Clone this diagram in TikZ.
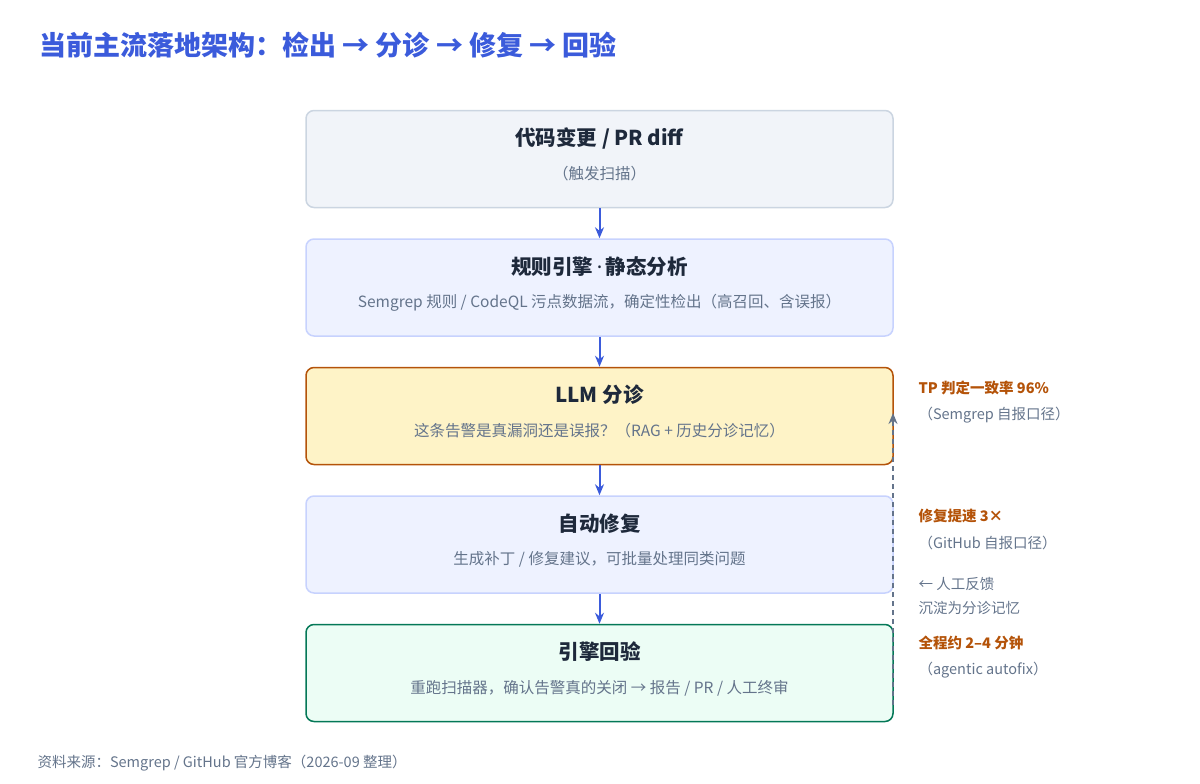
\documentclass[tikz,border=0pt]{standalone}
\usepackage{fontspec}
\setmainfont{Noto Sans CJK SC}
\newfontfamily\latinfont{Noto Sans}
\usetikzlibrary{arrows.meta,positioning}
\definecolor{titleblue}{HTML}{3B5BDB}
\definecolor{darktext}{HTML}{1E293B}
\definecolor{greytext}{HTML}{64748B}
\definecolor{orangetext}{HTML}{B45309}
\begin{document}
\begin{tikzpicture}[x=1pt,y=-1pt,>={Stealth[length=11pt,width=9pt]},
        node distance=30pt,
        box/.style={rectangle,rounded corners=8pt,line width=1.5pt,minimum width=587pt,minimum height=97pt},
        box grey/.style={box,draw={rgb,255:red,203;green,213;blue,225},fill={rgb,255:red,241;green,244;blue,249}},
        box blue/.style={box,draw={rgb,255:red,199;green,210;blue,254},fill={rgb,255:red,238;green,242;blue,255}},
        box amber/.style={box,draw=orangetext,fill={rgb,255:red,254;green,243;blue,199}},
        box green/.style={box,draw={rgb,255:red,4;green,120;blue,87},fill={rgb,255:red,236;green,253;blue,245}},
        head/.style={font=\bfseries\fontsize{20.5}{24}\selectfont,text=darktext},
        sub/.style={font=\fontsize{15.5}{18}\selectfont,text=greytext},
        note/.style={anchor=west,font=\fontsize{14.5}{17}\selectfont,text=greytext},
        note bold/.style={note,font=\bfseries\fontsize{14.5}{17}\selectfont,text=orangetext},
        flow/.style={->,draw=titleblue,line width=2pt}]
        \useasboundingbox (0,0) rectangle (1200,784);
        \node[anchor=west,font=\bfseries\fontsize{27}{31}\selectfont,text=titleblue] (title) at (36,45) {当前主流落地架构：检出 → 分诊 → 修复 → 回验};
        % pipeline boxes
        \node[box grey] (b1) at (599.5,159) {};
        \node[box blue] (b2) [below=of b1] {};
        \node[box amber] (b3) [below=of b2] {};
        \node[box blue] (b4) [below=of b3] {};
        \node[box green] (b5) [below=of b4] {};
        \node[head] (h1) at ([yshift=21pt]b1.center) {代码变更 / PR diff};
        \node[sub] (s1) at ([yshift=-15pt]b1.center) {（触发扫描）};
        \node[head] (h2) at ([yshift=21pt]b2.center) {规则引擎{\latinfont\,·\,}静态分析};
        \node[sub] (s2) at ([yshift=-15pt]b2.center) {Semgrep 规则 / CodeQL 污点数据流，确定性检出（高召回、含误报）};
        \node[head] (h3) at ([yshift=21pt]b3.center) {LLM 分诊};
        \node[sub] (s3) at ([yshift=-15pt]b3.center) {这条告警是真漏洞还是误报？（RAG + 历史分诊记忆）};
        \node[head] (h4) at ([yshift=21pt]b4.center) {自动修复};
        \node[sub] (s4) at ([yshift=-15pt]b4.center) {生成补丁 / 修复建议，可批量处理同类问题};
        \node[head] (h5) at ([yshift=21pt]b5.center) {引擎回验};
        \node[sub] (s5) at ([yshift=-15pt]b5.center) {重跑扫描器，确认告警真的关闭 → 报告 / PR / 人工终审};
        \draw[flow] (b1) -- (b2);
        \draw[flow] (b2) -- (b3);
        \draw[flow] (b3) -- (b4);
        \draw[flow] (b4) -- (b5);
        % feedback loop
        \coordinate (fb) at (893,705);
        \draw[->,draw=greytext,line width=1.6pt,dash pattern=on 5pt off 4pt] (fb) -- (893,413);
        \node[note bold] (n1) at (915,388) {TP 判定一致率 96\%};
        \node[note] (n2) at (915,415) {（Semgrep 自报口径）};
        \node[note bold] (n3) at (915,516) {修复提速 3×};
        \node[note] (n4) at (915,543) {（GitHub 自报口径）};
        \node[note] (n5) at (915,584) {← 人工反馈};
        \node[note] (n6) at (915,608) {沉淀为分诊记忆};
        \node[note bold] (n7) at (915,643) {全程约 2–4 分钟};
        \node[note] (n8) at (915,670) {（agentic autofix）};
        \node[anchor=west,font=\fontsize{14.5}{17}\selectfont,text=greytext] (src) at (34,763) {资料来源：Semgrep / GitHub 官方博客（2026-09 整理）};
\end{tikzpicture}
\end{document}
